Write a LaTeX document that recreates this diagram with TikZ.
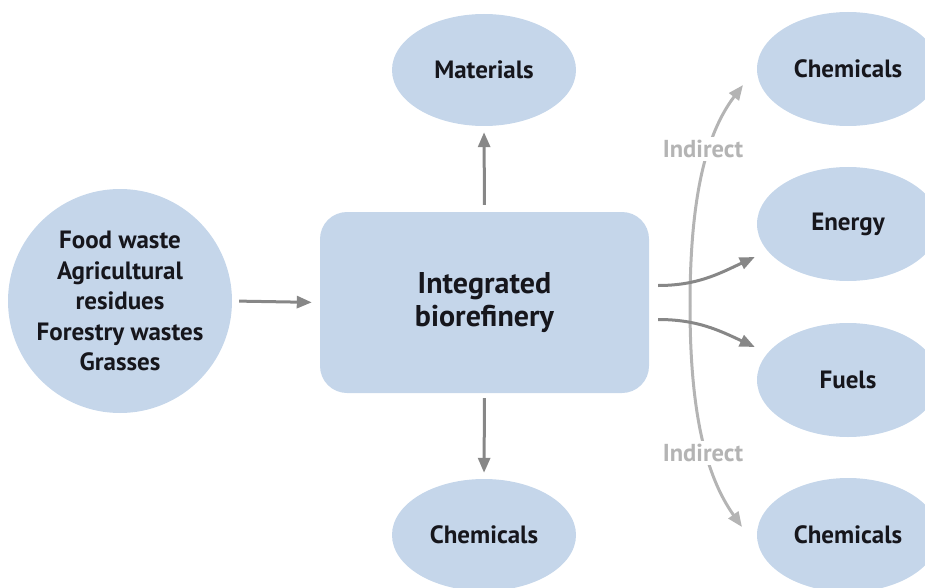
\documentclass[tikz,border=0pt]{standalone}
\usepackage{fontspec}
\setmainfont{PT Sans}
\usetikzlibrary{arrows.meta,shapes.geometric}
\definecolor{boxblue}{RGB}{197,214,234}
\definecolor{arrowgray}{RGB}{135,135,135}
\definecolor{indgray}{RGB}{180,180,180}
\definecolor{txt}{RGB}{22,22,28}
\begin{document}
\begin{tikzpicture}[x=1pt,y=-1pt,
  blob/.style={ellipse, fill=boxblue, minimum width=184pt, minimum height=112pt, inner sep=0pt,
    font=\fontsize{25}{30}\selectfont\bfseries, text=txt},
  rblob/.style={blob, minimum width=182pt, minimum height=114pt},
  srcblob/.style={circle, fill=boxblue, minimum size=224pt, inner sep=0pt, align=center,
    font=\fontsize{25}{30.5}\selectfont\bfseries, text=txt},
  hub/.style={rectangle, rounded corners=27pt, fill=boxblue, minimum width=329pt, minimum height=181pt,
    inner sep=0pt, align=center, font=\fontsize{30}{33.5}\selectfont\bfseries, text=txt},
  arr/.style={draw=arrowgray, line width=3pt, -{Triangle[length=15pt,width=12pt]}},
  iarr/.style={draw=indgray, line width=3pt, -{Triangle[length=15pt,width=12pt]}},
  ilabel/.style={fill=white, inner sep=3pt, text=indgray, font=\fontsize{24.5}{28}\selectfont\bfseries}
]
\useasboundingbox (0,0) rectangle (925,588);
\clip (0,0) rectangle (925,588);

% nodes
\node[srcblob] (src) at (120,301) {Food waste\\Agricultural\\residues\\Forestry wastes\\Grasses};
\node[hub] (hub) at (484.5,302.5) {Integrated\\biorefinery};
\node[blob] (mat) at (484,70) {Materials};
\node[blob] (chb) at (484,535) {Chemicals};
\node[rblob] (cht) at (848,69) {Chemicals};
\node[rblob] (en) at (848,224) {Energy};
\node[rblob] (fu) at (848,380) {Fuels};
\node[rblob] (chr) at (848,535) {Chemicals};

% indirect arc
\coordinate (mid) at (690,306);
\coordinate (itop) at (743,85);
\coordinate (ibot) at (742,527);
\draw[iarr] (mid) .. controls (690,200) and (705,135) .. (itop);
\draw[iarr] (mid) .. controls (690,410) and (705,475) .. (ibot);
\node[ilabel] (ind1) at (703,149) {Indirect};
\node[ilabel] (ind2) at (703,453) {Indirect};

% direct arrows
\draw[arr, shorten <=7pt, shorten >=8pt] (src.east) -- (hub.west);
\draw[arr, shorten <=7pt, shorten >=6pt] (hub.north) -- (mat.south);
\draw[arr, shorten <=5pt, shorten >=6pt] (hub.south) -- (chb.north);
\draw[arr] ([xshift=9pt,yshift=17pt]hub.east) to[out=0,in=205] ([xshift=-2pt,yshift=-33pt]en.west);
\draw[arr] ([xshift=9pt,yshift=-17pt]hub.east) to[out=0,in=155] ([xshift=-2pt,yshift=33pt]fu.west);
\end{tikzpicture}
\end{document}
